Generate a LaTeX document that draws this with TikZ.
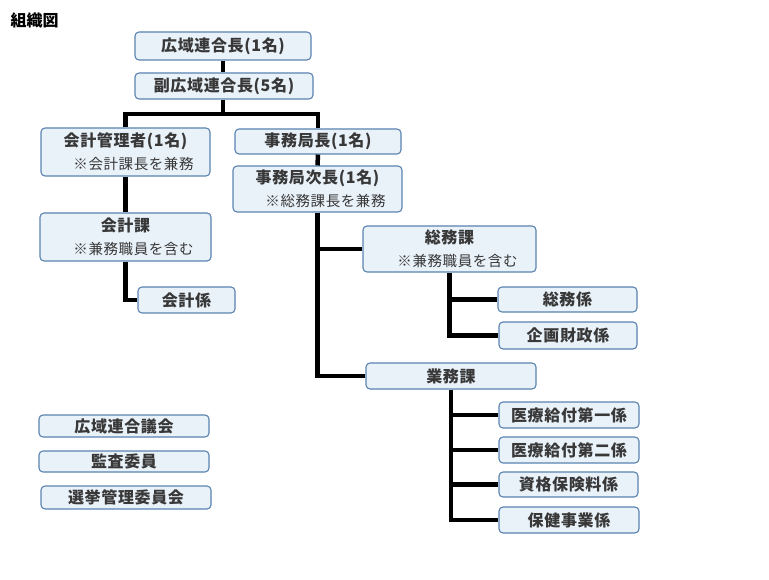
\documentclass[tikz,border=0pt]{standalone}
\usepackage{fontspec}
\setmainfont{Noto Sans CJK JP}
\usepackage{xcolor}
\usetikzlibrary{positioning,calc}
\definecolor{boxfill}{HTML}{E9F1F9}
\definecolor{boxline}{HTML}{5A83B0}
\definecolor{boxtext}{HTML}{383838}
\newcommand{\subnote}[1]{\hspace{16pt}{\fontsize{14.5}{16}\selectfont\mdseries #1}}

\begin{document}
\begin{tikzpicture}[
        x=1pt, y=-1pt,
        font=\bfseries,
        % 箱 (unit box)
        box/.style={
            rectangle, draw=boxline, fill=boxfill, line width=1.1pt,
            rounded corners=4pt, text=boxtext,
            font=\fontsize{16}{23}\selectfont\bfseries\addfontfeature{LetterSpace=4},
            align=center, inner sep=0pt
        },
        % 連結線
        link/.style={line width=4.5pt, black}
    ]
        \useasboundingbox (0,0) rectangle (769,580);

        % ====================
        % 表題
        % ====================
        \node[anchor=west, font=\fontsize{16}{18}\selectfont\bfseries] (T) at (7,20) {組織図};

        % ====================
        % 上層 (top)
        % ====================
        \node[box, minimum width=176pt, minimum height=28pt] (N1) at (223,46) {広域連合長(1名)};
        \node[box, minimum width=178pt, minimum height=26pt] (N2) at (224,86) {副広域連合長(5名)};

        % ====================
        % 会計 (left column)
        % ====================
        \node[box, minimum width=169pt, minimum height=48pt] (N3) at (125.5,152) {会計管理者(1名)\\\subnote{※会計課長を兼務}};
        \node[box, minimum width=171pt, minimum height=48pt] (N4) at (125.5,237) {会計課\\\subnote{※兼務職員を含む}};
        \node[box, minimum width=97pt, minimum height=26pt] (N5) at (186.5,300) {会計係};

        % ====================
        % 事務局 (middle column)
        % ====================
        \node[box, minimum width=166pt, minimum height=25pt] (N6) at (318,141.5) {事務局長(1名)};
        \node[box, minimum width=169pt, minimum height=46pt] (N7) at (317.5,189) {事務局次長(1名)\\\subnote{※総務課長を兼務}};

        % 総務課 and its sections
        \node[box, minimum width=173pt, minimum height=46pt] (N8) at (449.5,249) {総務課\\\subnote{※兼務職員を含む}};
        \node[box, minimum width=139pt, minimum height=25pt] (N9) at (567.5,299.5) {総務係};
        \node[box, minimum width=138pt, minimum height=27pt] (N10) at (568,335.5) {企画財政係};

        % 業務課 and its sections
        \node[box, minimum width=170pt, minimum height=26pt] (N11) at (451,376) {業務課};
        \node[box, minimum width=140pt, minimum height=26pt] (N12) at (569,415) {医療給付第一係};
        \node[box, minimum width=140pt, minimum height=26pt] (N13) at (569,450) {医療給付第二係};
        \node[box, minimum width=139pt, minimum height=25pt] (N14) at (568.5,484.5) {資格保険料係};
        \node[box, minimum width=140pt, minimum height=26pt] (N15) at (569,520) {保健事業係};

        % ====================
        % 独立機関 (bottom left)
        % ====================
        \node[box, minimum width=170pt, minimum height=22pt] (N16) at (124,426) {広域連合議会};
        \node[box, minimum width=170pt, minimum height=21pt] (N17) at (124,461.5) {監査委員};
        \node[box, minimum width=170pt, minimum height=23pt] (N18) at (126,497.5) {選挙管理委員会};

        % ====================
        % 連線 (Connections)
        % ====================
        \coordinate (bus) at (222,114);
        \draw[link] (N1.south) -- (N1.south |- N2.north);
        \draw[link] (N2.south -| N1.south) -- (N1.south |- bus);
        \draw[link] (N3.north) -- (N3.north |- bus) -- (N6.north |- bus) -- (N6.north);
        \draw[link] (N6.south) -- (N7.north);

        % 会計
        \draw[link] (N3.south) -- (N4.north);
        \draw[link] (N4.south) |- (N5.west);

        % 事務局次長 -> 総務課, 業務課
        \draw[link] (N7.south) |- (N11.west);
        \draw[link] (N7.south |- N8.west) -- (N8.west);

        % 総務課 -> 係
        \draw[link] (N8.south) |- (N10.west);
        \draw[link] (N8.south |- N9.west) -- (N9.west);

        % 業務課 -> 係
        \draw[link] (N11.south) |- (N15.west);
        \foreach \k in {N12,N13,N14}
            \draw[link] (N11.south |- \k.west) -- (\k.west);

    \end{tikzpicture}
\end{document}
